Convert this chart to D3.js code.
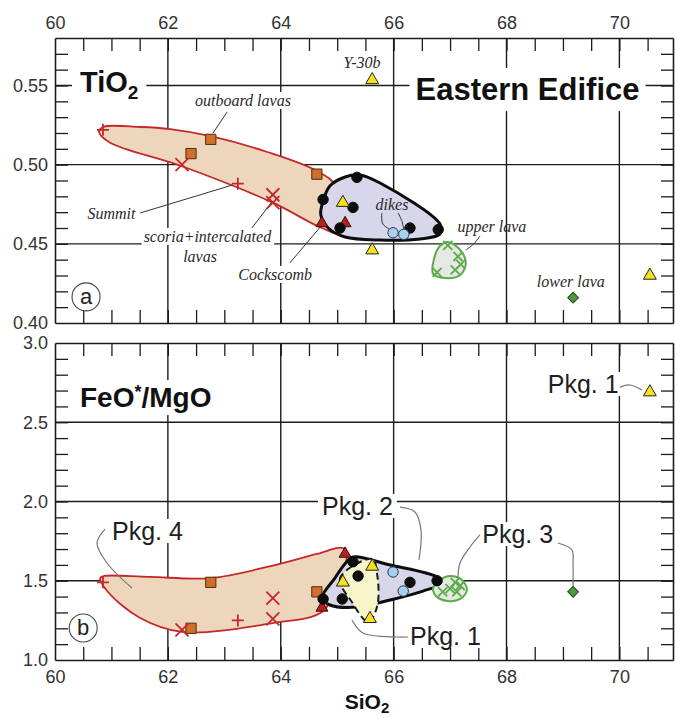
<!DOCTYPE html>
<html>
<head>
<meta charset="utf-8">
<script src="https://cdn.jsdelivr.net/npm/d3@7"></script>
<style>
  body { margin: 0; background: #fff; }
</style>
</head>
<body>
<script>
// ticks
var siTicks = [60, 62, 64, 66, 68, 70];
var tiTicks = [0.40, 0.45, 0.50, 0.55];
var feTicks = [1.0, 1.5, 2.0, 2.5, 3.0];

// panel a: [SiO2, TiO2]
var aSummit    = [[60.85, 0.522], [63.24, 0.488]];
var aScoria    = [[62.25, 0.500], [63.86, 0.481], [63.86, 0.476]];
var aOutboard  = [[62.41, 0.507], [62.76, 0.516], [64.64, 0.494]];
var aCockscomb = [[64.73, 0.463], [65.14, 0.463]];
var aPkg2      = [[64.75, 0.478], [65.35, 0.492], [65.28, 0.473], [65.05, 0.460], [66.29, 0.460], [66.79, 0.459]];
var aPkg1      = [[65.62, 0.5535], [65.10, 0.476], [65.62, 0.446], [70.54, 0.430]];
var aDikes     = [[65.99, 0.457], [66.18, 0.456]];
var aUpper     = [[66.96, 0.449], [67.14, 0.442], [67.19, 0.437], [67.09, 0.4335], [66.77, 0.432]];
var aLower     = [[69.18, 0.416]];

// panel b: [SiO2, FeO*/MgO]
var bSummit    = [[60.85, 1.49], [63.24, 1.25]];
var bScoria    = [[62.25, 1.19], [63.86, 1.39], [63.86, 1.26]];
var bOutboard  = [[62.41, 1.20], [62.76, 1.49], [64.64, 1.43]];
var bCockscomb = [[64.73, 1.33], [65.14, 1.67]];
var bPkg2      = [[65.28, 1.62], [65.37, 1.53], [66.29, 1.49], [66.77, 1.50], [64.75, 1.385], [65.09, 1.385]];
var bPkg1      = [[65.62, 1.59], [65.10, 1.49], [65.58, 1.26], [70.54, 2.69]];
var bDikes     = [[65.99, 1.555], [66.17, 1.435]];
var bUpper     = [[66.87, 1.43], [67.0, 1.45], [67.12, 1.43], [67.18, 1.47], [67.09, 1.49]];
var bLower     = [[69.18, 1.43]];

// field outlines
var aField4 = [[60.78, 0.5207], [60.85, 0.5238], [61.51, 0.5238], [62.04, 0.5225], [62.76, 0.518], [63.76, 0.508],
               [64.64, 0.496], [64.96, 0.487], [65.05, 0.457], [64.73, 0.460], [63.86, 0.476], [62.25, 0.499], [60.97, 0.514]];
var aField2 = [[64.73, 0.4745], [64.87, 0.4865], [65.14, 0.4922], [65.40, 0.4935], [65.76, 0.4884], [66.82, 0.4625],
               [66.82, 0.4562], [66.47, 0.4531], [65.76, 0.4524], [65.14, 0.4543], [64.84, 0.460], [64.71, 0.4682]];
var aField3 = [[66.96, 0.4512], [67.18, 0.4461], [67.28, 0.4379], [67.18, 0.4303], [66.91, 0.4284], [66.70, 0.4310],
               [66.72, 0.4411], [66.82, 0.4486]];
var bField4 = [[60.80, 1.517], [60.87, 1.530], [61.68, 1.524], [62.76, 1.517], [63.76, 1.587], [64.64, 1.669],
               [65.10, 1.707], [65.17, 1.656], [64.96, 1.442], [64.73, 1.303], [63.86, 1.233], [62.25, 1.177],
               [61.51, 1.265], [60.94, 1.429]];
var bField2 = [[65.28, 1.650], [65.94, 1.599], [66.77, 1.524], [66.87, 1.486], [66.52, 1.435], [65.94, 1.379],
               [65.35, 1.334], [64.87, 1.347], [64.73, 1.391], [64.96, 1.517], [65.15, 1.612]];
var bField1 = [[65.62, 1.637], [65.05, 1.517], [65.26, 1.366], [65.55, 1.240], [65.71, 1.341], [65.71, 1.536]];
var bField3 = [[67.0, 1.530], [67.21, 1.505], [67.30, 1.442], [67.18, 1.385], [66.96, 1.372], [66.75, 1.404],
               [66.70, 1.454], [66.82, 1.505]];

var sans = "'Liberation Sans', Arial, sans-serif";
var serif = "'Liberation Serif', 'Times New Roman', serif";

var svg = d3.select("body").append("svg")
    .attr("width", 675)
    .attr("height", 719)
    .style("font-family", sans);

var x = d3.scaleLinear().domain([60, 70.95]).range([55, 673]);
var ya = d3.scaleLinear().domain([0.40, 0.58]).range([323, 38]);
var yb = d3.scaleLinear().domain([1.0, 3.0]).range([660, 343]);

function panel(y, minorY, gridY) {
  var top = y.range()[1], bot = y.range()[0];
  var g = svg.append("g");
  var grid = g.append("g").attr("stroke", "#1c1c1c").attr("stroke-width", 1.4);
  grid.selectAll("line.gx")
      .data(siTicks.filter(function(d) { return d > 60; }))
    .enter().append("line").attr("class", "gx")
      .attr("x1", x).attr("x2", x).attr("y1", top).attr("y2", bot);
  grid.selectAll("line.gy")
      .data(gridY)
    .enter().append("line").attr("class", "gy")
      .attr("x1", x.range()[0]).attr("x2", x.range()[1])
      .attr("y1", y).attr("y2", y);

  var L = {
    shapes: g.append("g"),
    axes: g.append("g"),
    notes: g.append("g"),
    marks: g.append("g")
  };

  var xm = d3.range(60.5, 70.9, 0.5);
  L.axes.append("g").attr("transform", "translate(0," + top + ")")
      .call(d3.axisTop(x).tickValues(xm).tickSize(-13).tickSizeOuter(0).tickFormat(""));
  L.axes.append("g").attr("transform", "translate(0," + bot + ")")
      .call(d3.axisBottom(x).tickValues(xm).tickSize(-13).tickSizeOuter(0).tickFormat(""));
  L.axes.append("g").attr("transform", "translate(" + x.range()[0] + ",0)")
      .call(d3.axisLeft(y).tickValues(minorY).tickSize(-13).tickSizeOuter(0).tickFormat(""));
  L.axes.append("g").attr("transform", "translate(" + x.range()[1] + ",0)")
      .call(d3.axisRight(y).tickValues(minorY).tickSize(-12).tickSizeOuter(0).tickFormat(""));
  L.axes.selectAll("path.domain").attr("stroke", "#1c1c1c").attr("stroke-width", 1.6);
  L.axes.selectAll(".tick line").attr("stroke", "#1c1c1c").attr("stroke-width", 1.3);
  return L;
}

function tickLabels(axis, t) {
  var g = svg.append("g").attr("transform", t).call(axis);
  g.select(".domain").remove();
  g.selectAll("text")
      .style("font-family", sans)
      .attr("font-size", 18)
      .attr("fill", "#333");
}

var A = panel(ya, d3.range(0.41, 0.575, 0.01), [0.45, 0.50, 0.55]);
var B = panel(yb, d3.range(1.1, 2.95, 0.1), [1.5, 2.0, 2.5]);

tickLabels(d3.axisTop(x).tickValues(siTicks).tickSize(0).tickPadding(9).tickFormat(d3.format("d")), "translate(0,38)");
tickLabels(d3.axisLeft(ya).tickValues(tiTicks).tickSize(0).tickPadding(7).tickFormat(d3.format(".2f")), "translate(55,0)");
tickLabels(d3.axisLeft(yb).tickValues(feTicks).tickSize(0).tickPadding(7).tickFormat(d3.format(".1f")), "translate(55,0)");
tickLabels(d3.axisBottom(x).tickValues(siTicks).tickSize(0).tickPadding(10).tickFormat(d3.format("d")), "translate(0,660)");

// fields
function field(layer, y, pts, fill, stroke, width, dash) {
  var line = d3.line()
      .x(function(d) { return x(d[0]); })
      .y(function(d) { return y(d[1]); })
      .curve(d3.curveCatmullRomClosed.alpha(0.5));
  layer.append("path").datum(pts)
      .attr("d", line)
      .attr("fill", fill)
      .attr("stroke", stroke)
      .attr("stroke-width", width)
      .attr("stroke-dasharray", dash || null)
      .attr("stroke-linejoin", "round");
}

field(A.shapes, ya, aField4, "#eed6bd", "#c4282b", 1.8);
field(A.shapes, ya, aField2, "#d7d6ea", "#0d0d0d", 3);
field(A.shapes, ya, aField3, "#e6e8e4", "#5aac49", 2);

field(B.shapes, yb, bField4, "#eed6bd", "#c4282b", 1.8);
field(B.shapes, yb, bField2, "#d7d6ea", "#0d0d0d", 3);
field(B.shapes, yb, bField1, "#f8f5cb", "#1a1a1a", 2, "7,4");
field(B.shapes, yb, bField3, "#e6e8e4", "#5aac49", 2);

// symbols
var sym = {
  square:  { d: d3.symbol().type(d3.symbolSquare).size(105)(), fill: "#cf6f2a", stroke: "#4a2e16", sw: 1 },
  triR:    { d: d3.symbol().type(d3.symbolTriangle).size(62)(), fill: "#b5221e", stroke: "#3a0a08", sw: 1 },
  triY:    { d: d3.symbol().type(d3.symbolTriangle).size(72)(), fill: "#f4e21c", stroke: "#222", sw: 1 },
  dot:     { d: d3.symbol().type(d3.symbolCircle).size(85)(), fill: "#0d0d0d", stroke: "#0d0d0d", sw: 1 },
  blue:    { d: d3.symbol().type(d3.symbolCircle).size(85)(), fill: "#a6d1ee", stroke: "#2f3a44", sw: 1 },
  diamond: { d: d3.symbol().type(d3.symbolSquare).size(58)(), fill: "#4c9a3c", stroke: "#1e4a18", sw: 1, rot: 45 },
  plus:    { d: "M-6,0H6M0,-6V6", fill: "none", stroke: "#c4282b", sw: 1.8 },
  cross:   { d: "M-6.5,-6.5L6.5,6.5M-6.5,6.5L6.5,-6.5", fill: "none", stroke: "#c4282b", sw: 1.8 },
  gx:      { d: "M-4.5,-4.5L4.5,4.5M-4.5,4.5L4.5,-4.5", fill: "none", stroke: "#5aac49", sw: 1.8 }
};

function marks(layer, y, data, kind) {
  var s = sym[kind];
  layer.selectAll(null).data(data).enter().append("path")
      .attr("d", s.d)
      .attr("transform", function(d) {
        return "translate(" + x(d[0]) + "," + y(d[1]) + ")" + (s.rot ? " rotate(" + s.rot + ")" : "");
      })
      .attr("fill", s.fill)
      .attr("stroke", s.stroke)
      .attr("stroke-width", s.sw);
}

marks(A.marks, ya, aOutboard, "square");
marks(A.marks, ya, aSummit, "plus");
marks(A.marks, ya, aScoria, "cross");
marks(A.marks, ya, aCockscomb, "triR");
marks(A.marks, ya, aPkg2, "dot");
marks(A.marks, ya, aDikes, "blue");
marks(A.marks, ya, aPkg1, "triY");
marks(A.marks, ya, aUpper, "gx");
marks(A.marks, ya, aLower, "diamond");

marks(B.marks, yb, bOutboard, "square");
marks(B.marks, yb, bSummit, "plus");
marks(B.marks, yb, bScoria, "cross");
marks(B.marks, yb, bCockscomb, "triR");
marks(B.marks, yb, bPkg2, "dot");
marks(B.marks, yb, bDikes, "blue");
marks(B.marks, yb, bPkg1, "triY");
marks(B.marks, yb, bUpper, "gx");
marks(B.marks, yb, bLower, "diamond");

// text helpers
function label(layer, y, pos, txt, o) {
  var g = layer.append("g");
  var t = g.append("text")
      .attr("x", x(pos[0])).attr("y", y(pos[1]))
      .attr("text-anchor", o.anchor || "middle")
      .style("font-family", o.font || sans)
      .attr("font-size", o.size)
      .attr("font-weight", o.weight || "normal")
      .attr("font-style", o.style || "normal")
      .attr("fill", o.color || "#222");
  if (typeof txt === "string") {
    t.text(txt);
  } else {
    txt.forEach(function(p) {
      var s = t.append("tspan").text(p.t);
      if (p.dy) s.attr("dy", p.dy);
      if (p.size) s.attr("font-size", p.size);
    });
  }
  if (o.bg) {
    var b = t.node().getBBox();
    var px = o.padX == null ? 3 : o.padX, py = o.padY == null ? 0 : o.padY;
    g.insert("rect", "text")
        .attr("x", b.x - px).attr("y", b.y - py)
        .attr("width", b.width + 2 * px).attr("height", b.height + 2 * py)
        .attr("fill", "#fff");
  }
  return t;
}

function leader(layer, y, pts, color, w) {
  var line = d3.line()
      .x(function(d) { return x(d[0]); })
      .y(function(d) { return y(d[1]); })
      .curve(d3.curveCatmullRom.alpha(0.5));
  layer.append("path").datum(pts)
      .attr("d", line)
      .attr("fill", "none")
      .attr("stroke", color)
      .attr("stroke-width", w);
}

function circled(layer, y, pos, letter) {
  layer.append("circle")
      .attr("cx", x(pos[0])).attr("cy", y(pos[1])).attr("r", 14)
      .attr("fill", "#fff").attr("stroke", "#444").attr("stroke-width", 1.1);
  layer.append("text")
      .attr("x", x(pos[0])).attr("y", y(pos[1]) + 7.5)
      .attr("text-anchor", "middle")
      .attr("font-size", 22).attr("fill", "#222")
      .text(letter);
}

// panel a notes
var it = { font: serif, style: "italic", size: 16, color: "#2a2a2a" };
var itBg = { font: serif, style: "italic", size: 16, color: "#2a2a2a", bg: true, padX: 2 };

label(A.notes, ya, [60.443, 0.5459], [{ t: "TiO" }, { t: "2", dy: 7, size: 19 }],
      { anchor: "start", size: 29, weight: "bold", color: "#111", bg: true, padX: 8, padY: 2 });
label(A.notes, ya, [68.372, 0.5408], "Eastern Edifice",
      { size: 31, weight: "bold", color: "#111", bg: true, padX: 6, padY: 4 });

leader(A.notes, ya, [[63.05, 0.5333], [62.80, 0.5200]], "#333", 1);
leader(A.notes, ya, [[61.51, 0.4695], [63.15, 0.4872]], "#333", 1);
leader(A.notes, ya, [[63.46, 0.4587], [63.84, 0.4764]], "#333", 1);
leader(A.notes, ya, [[64.16, 0.4379], [64.70, 0.4606]], "#333", 1);
leader(A.notes, ya, [[65.79, 0.4695], [65.81, 0.4625], [65.99, 0.4581]], "#333", 1);
leader(A.notes, ya, [[66.08, 0.4695], [66.15, 0.4640], [66.18, 0.4587]], "#333", 1);
leader(A.notes, ya, [[67.53, 0.4549], [67.42, 0.4500], [67.28, 0.4461]], "#333", 1);

label(A.notes, ya, [65.44, 0.5611], "Y-30b", it);
label(A.notes, ya, [63.33, 0.5371], "outboard lavas", itBg);
label(A.notes, ya, [61.00, 0.4657], "Summit", itBg);
label(A.notes, ya, [62.70, 0.4512], "scoria+intercalated", itBg);
label(A.notes, ya, [62.57, 0.4385], "lavas", itBg);
label(A.notes, ya, [63.90, 0.4272], "Cockscomb", itBg);
label(A.notes, ya, [65.97, 0.4714], "dikes", it);
label(A.notes, ya, [67.74, 0.4575], "upper lava", it);
label(A.notes, ya, [69.14, 0.4227], "lower lava", it);
circled(A.notes, ya, [60.55, 0.4165], "a");

// panel b notes
label(B.notes, yb, [60.443, 2.596], [{ t: "FeO" }, { t: "*", dy: -9, size: 18 }, { t: "/MgO", dy: 9 }],
      { anchor: "start", size: 28, weight: "bold", color: "#111", bg: true, padX: 8, padY: 2 });

var pkg = { anchor: "start", size: 25, color: "#1e1e1e", bg: true, padX: 4, padY: -2 };
label(B.notes, yb, [61.01, 1.757], "Pkg. 4", pkg);
label(B.notes, yb, [64.73, 1.915], "Pkg. 2", pkg);
label(B.notes, yb, [67.57, 1.738], "Pkg. 3", pkg);
label(B.notes, yb, [66.29, 1.095], "Pkg. 1", pkg);
label(B.notes, yb, [68.73, 2.685], "Pkg. 1", pkg);

leader(B.notes, yb, [[60.886, 1.826], [60.744, 1.738], [60.921, 1.612], [61.364, 1.454]], "#777", 1.2);
leader(B.notes, yb, [[66.113, 1.965], [66.378, 1.934], [66.485, 1.820], [66.449, 1.631]], "#777", 1.2);
leader(B.notes, yb, [[67.530, 1.789], [67.353, 1.713], [67.176, 1.612], [67.140, 1.517]], "#777", 1.2);
leader(B.notes, yb, [[68.912, 1.738], [69.160, 1.694], [69.178, 1.612], [69.178, 1.461]], "#777", 1.2);
leader(B.notes, yb, [[66.255, 1.145], [66.060, 1.145], [65.457, 1.170], [65.262, 1.252]], "#777", 1.2);
leader(B.notes, yb, [[70.011, 2.722], [70.188, 2.735], [70.401, 2.703]], "#777", 1.2);
circled(B.notes, yb, [60.50, 1.202], "b");

// axis title
svg.append("text")
    .attr("x", 367).attr("y", 709)
    .attr("text-anchor", "middle")
    .attr("font-size", 21).attr("font-weight", "bold").attr("fill", "#111")
    .call(function(t) {
      t.append("tspan").text("SiO");
      t.append("tspan").text("2").attr("dy", 4).attr("font-size", 15);
    });
</script>
</body>
</html>
